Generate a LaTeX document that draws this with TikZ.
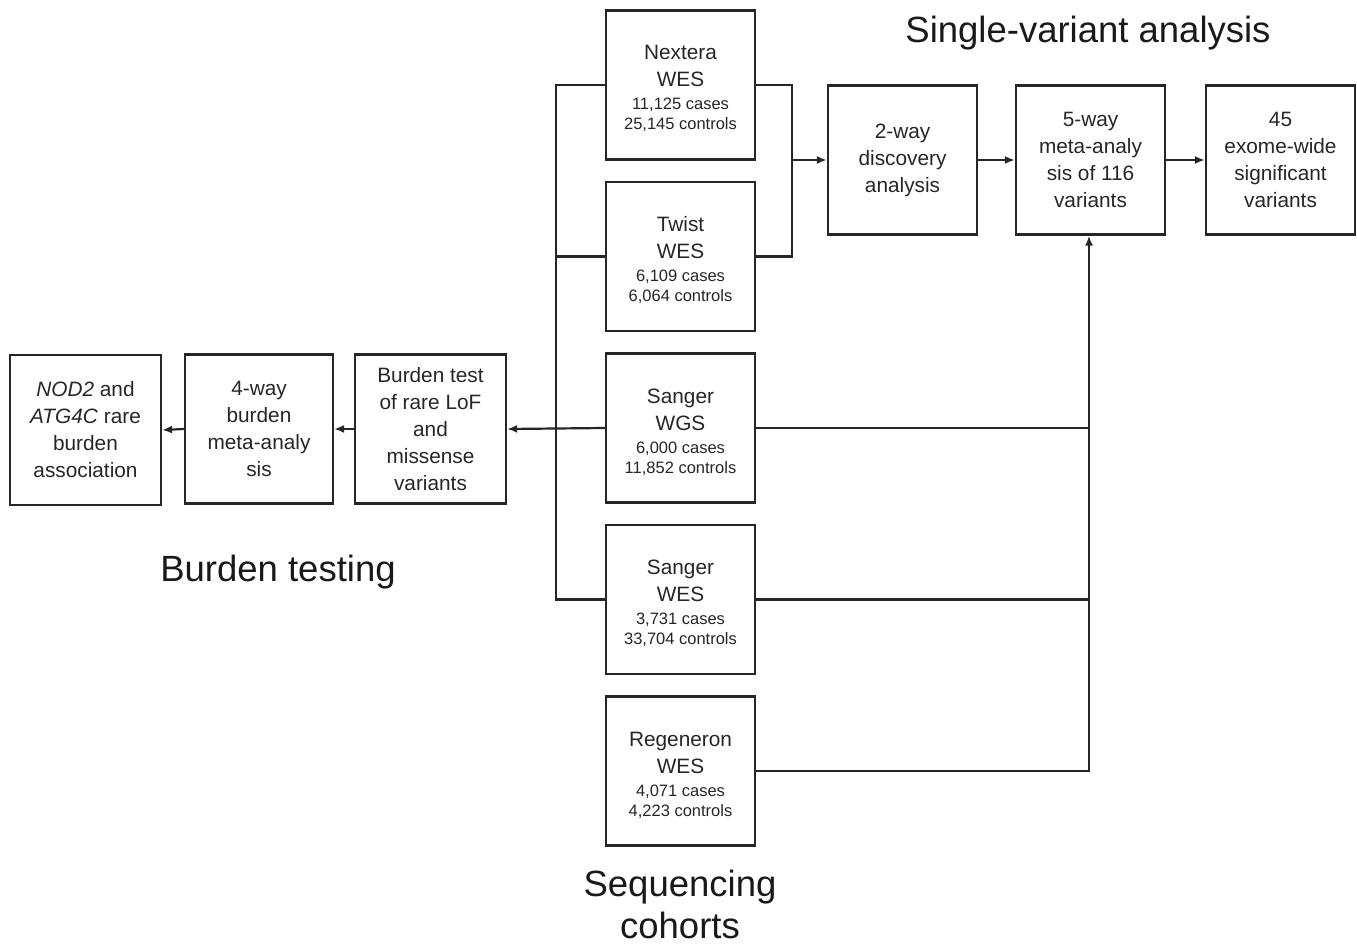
\documentclass[tikz,border=0pt]{standalone}
\usepackage{fontspec}
\setmainfont{Liberation Sans}
\usetikzlibrary{arrows.meta}
\newcommand{\cnt}[2]{\\[-4pt]{\fontsize{16.5}{20}\selectfont\begin{tabular}[t]{@{}c@{}}#1 cases\\#2 controls\end{tabular}}}
\newcommand{\tp}{\rule{0pt}{26pt}}
\begin{document}
\begin{tikzpicture}[x=1pt,y=-1pt,
  box/.style={draw=black!85, line width=2.2pt, minimum width=149pt, minimum height=149pt, inner sep=2pt, align=center, font=\fontsize{20.8}{27}\selectfont, text=black!85},
  conn/.style={draw=black!85, line width=2.2pt},
  arr/.style={conn, -{Latex[length=10pt,width=8pt]}},
  title/.style={font=\fontsize{36.5}{42}\selectfont, text=black!90, align=center}]
\useasboundingbox (0,0) rectangle (1357,944);
\node[box] (nex) at (680.5,85) {\tp Nextera\\WES\cnt{11,125}{25,145}};
\node[box] (twi) at (680.5,256.5) {\tp Twist\\WES\cnt{6,109}{6,064}};
\node[box] (wgs) at (680.5,428) {\tp Sanger\\WGS\cnt{6,000}{11,852}};
\node[box] (swes) at (680.5,599.5) {\tp Sanger\\WES\cnt{3,731}{33,704}};
\node[box] (reg) at (680.5,771) {\tp Regeneron\\WES\cnt{4,071}{4,223}};
\node[box] (two) at (902.5,160) {2-way\\discovery\\analysis};
\node[box] (five) at (1090.5,160) {5-way\\meta-analy\\sis of 116\\variants};
\node[box] (fortyfive) at (1280.5,160) {45\\exome-wide\\significant\\variants};
\node[box, minimum width=151pt] (bur) at (430.5,429) {Burden test\\of rare LoF\\and\\missense\\variants};
\node[box, minimum width=148pt] (four) at (259,429) {4-way\\burden\\meta-analy\\sis};
\node[box, minimum width=151pt, minimum height=150pt] (nod) at (85.5,430) {\textit{NOD2} and\\\textit{ATG4C} rare\\burden\\association};
\coordinate (rj) at (792,160);
\coordinate (lv) at (556,85);
\coordinate (rv) at (1089,428);
\draw[conn] (nex.east) -| (rj) |- (twi.east);
\draw[arr] (rj) -- (two.west);
\draw[arr] (two.east) -- (five.west);
\draw[arr] (five.east) -- (fortyfive.west);
\draw[conn] (nex.west) -| (lv) |- (swes.west);
\draw[conn] (twi.west) -- (twi.west -| lv);
\draw[arr] (wgs.west) -- (bur.east);
\draw[arr] (bur.west) -- (four.east);
\draw[arr] (four.west) -- (nod.east);
\draw[conn] (wgs.east) -- (wgs.east -| rv);
\draw[conn] (swes.east) -- (swes.east -| rv);
\draw[conn] (reg.east) -| (rv);
\draw[arr] (reg.east -| rv) -- (five.south -| rv);
\node[title] (sva) at (1088,33) {Single-variant analysis};
\node[title] (bt) at (278,572) {Burden testing};
\node[title] (sc) at (680,904) {Sequencing\\cohorts};
\end{tikzpicture}
\end{document}
